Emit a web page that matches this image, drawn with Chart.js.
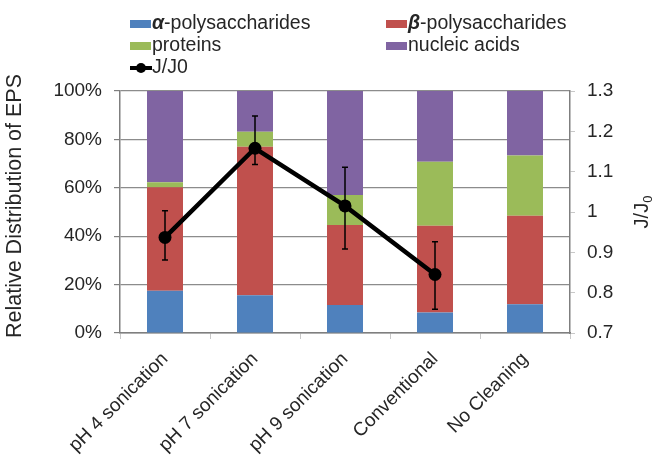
<!DOCTYPE html>
<html>
<head>
<meta charset="utf-8">
<script src="https://cdn.jsdelivr.net/npm/chart.js@4/dist/chart.umd.min.js"></script>
<style>
  html, body { margin: 0; padding: 0; background: #ffffff; }
  #wrap { width: 654px; height: 458px; }
</style>
</head>
<body>
<div id="wrap"><canvas id="c" width="654" height="458"></canvas></div>
<script>
// Cleaning treatments
const categories = ['pH 4 sonication', 'pH 7 sonication', 'pH 9 sonication', 'Conventional', 'No Cleaning'];

// Relative distribution of EPS fractions (%)
const alphaPoly  = [17.5, 15.6, 11.6, 8.5, 11.9];
const betaPoly   = [42.7, 61.4, 33.0, 35.8, 36.6];
const proteins   = [2.1, 6.2, 12.4, 26.5, 24.8];
const nucleic    = [37.7, 16.8, 43.0, 29.2, 26.7];

// Normalised flux recovery and its error range
const fluxRatio  = [0.937, 1.158, 1.015, 0.845, null];
const fluxUpper  = [1.003, 1.238, 1.111, 0.926, null];
const fluxLower  = [0.881, 1.118, 0.908, 0.759, null];

// Axis tick settings
const leftTicks  = { min: 0, max: 100, step: 20 };
const rightTicks = { min: 0.7, max: 1.3, step: 0.1 };

const FONT = "'Liberation Sans', Arial, sans-serif";
const TEXT = '#262626';
const COLORS = { alpha: '#4F81BD', beta: '#C0504D', prot: '#9BBB59', nuc: '#8064A2' };

// Error bars on the J/J0 line
const errorBars = {
  id: 'errorBars',
  afterDatasetsDraw(chart) {
    const meta = chart.getDatasetMeta(4);
    const y1 = chart.scales.y1;
    const ctx = chart.ctx;
    ctx.save();
    ctx.strokeStyle = '#000';
    ctx.lineWidth = 1.5;
    meta.data.forEach((pt, i) => {
      if (fluxUpper[i] == null) return;
      const x = pt.x;
      const yt = y1.getPixelForValue(fluxUpper[i]);
      const yb = y1.getPixelForValue(fluxLower[i]);
      ctx.beginPath();
      ctx.moveTo(x, yt); ctx.lineTo(x, yb);
      ctx.moveTo(x - 3, yt); ctx.lineTo(x + 3, yt);
      ctx.moveTo(x - 3, yb); ctx.lineTo(x + 3, yb);
      ctx.stroke();
    });
    ctx.restore();
  }
};

// Two-column legend and axis titles (with subscript)
const decorations = {
  id: 'decorations',
  afterDraw(chart) {
    const ctx = chart.ctx;
    const ds = chart.data.datasets;
    ctx.save();
    ctx.textBaseline = 'middle';
    ctx.fillStyle = TEXT;

    const items = [
      { ds: 0, x: 130, y: 24, greek: '\u03B1', rest: '-polysaccharides' },
      { ds: 1, x: 386, y: 24, greek: '\u03B2', rest: '-polysaccharides' },
      { ds: 2, x: 130, y: 46, greek: '', rest: 'proteins' },
      { ds: 3, x: 386, y: 46, greek: '', rest: 'nucleic acids' }
    ];
    items.forEach(it => {
      ctx.fillStyle = ds[it.ds].backgroundColor;
      ctx.fillRect(it.x, it.y - 4, 21, 8);
      let tx = it.x + 22;
      ctx.fillStyle = TEXT;
      if (it.greek) {
        ctx.font = 'italic bold 19.5px ' + FONT;
        ctx.fillText(it.greek, tx, it.y);
        tx += ctx.measureText(it.greek).width;
      }
      ctx.font = '19.5px ' + FONT;
      ctx.fillText(it.rest, tx, it.y);
    });
    // line series entry
    ctx.strokeStyle = '#000';
    ctx.lineWidth = 4;
    ctx.beginPath(); ctx.moveTo(130, 68); ctx.lineTo(152, 68); ctx.stroke();
    ctx.fillStyle = '#000';
    ctx.beginPath(); ctx.arc(141, 68, 5, 0, Math.PI * 2); ctx.fill();
    ctx.fillStyle = TEXT;
    ctx.font = '19.5px ' + FONT;
    ctx.fillText(ds[4].label, 152, 68);

    const area = chart.chartArea;
    const cy = (area.top + area.bottom) / 2;
    // left title
    ctx.save();
    ctx.translate(15, cy - 6);
    ctx.rotate(-Math.PI / 2);
    ctx.textAlign = 'center';
    ctx.font = '21.5px ' + FONT;
    ctx.fillText('Relative Distribution of EPS', 0, 0);
    ctx.restore();
    // right title J/J0 with subscript
    ctx.save();
    ctx.translate(642, cy);
    ctx.rotate(-Math.PI / 2);
    ctx.font = '20px ' + FONT;
    const main = 'J/J';
    const wMain = ctx.measureText(main).width;
    ctx.font = '13px ' + FONT;
    const wSub = ctx.measureText('0').width;
    const start = -(wMain + wSub) / 2;
    ctx.textAlign = 'left';
    ctx.font = '20px ' + FONT;
    ctx.fillText(main, start, 0);
    ctx.font = '13px ' + FONT;
    ctx.fillText('0', start + wMain, 6);
    ctx.restore();

    ctx.restore();
  }
};

const barBase = { stack: 'eps', yAxisID: 'y', order: 1, barPercentage: 0.4, categoryPercentage: 1.0, borderWidth: 0 };

new Chart(document.getElementById('c'), {
  data: {
    labels: categories,
    datasets: [
      Object.assign({ type: 'bar', label: 'α-polysaccharides', data: alphaPoly, backgroundColor: COLORS.alpha }, barBase),
      Object.assign({ type: 'bar', label: 'β-polysaccharides', data: betaPoly, backgroundColor: COLORS.beta }, barBase),
      Object.assign({ type: 'bar', label: 'proteins', data: proteins, backgroundColor: COLORS.prot }, barBase),
      Object.assign({ type: 'bar', label: 'nucleic acids', data: nucleic, backgroundColor: COLORS.nuc }, barBase),
      {
        type: 'line', label: 'J/J0', data: fluxRatio, yAxisID: 'y1', order: 0,
        borderColor: '#000', backgroundColor: '#000', borderWidth: 4.5,
        pointRadius: 6.5, pointHoverRadius: 6.5, pointBackgroundColor: '#000', pointBorderWidth: 0,
        tension: 0, spanGaps: false
      }
    ]
  },
  options: {
    responsive: false,
    animation: false,
    layout: { padding: { top: 91, left: 0, right: 0, bottom: 0 } },
    plugins: { legend: { display: false }, tooltip: { enabled: false } },
    scales: {
      x: {
        stacked: true,
        offset: true,
        grid: { display: true, drawOnChartArea: false, drawTicks: true, tickLength: 6, tickColor: '#c8c8c8', offset: true },
        border: { display: true, color: '#7f7f7f', width: 1.5 },
        ticks: { minRotation: 45, maxRotation: 45, padding: 9, color: TEXT, font: { family: FONT, size: 19 } },
        afterFit(s) { s.height = 125; }
      },
      y: {
        stacked: true,
        position: 'left',
        min: leftTicks.min, max: leftTicks.max,
        grid: { color: '#8c8c8c', lineWidth: 1.2, tickColor: '#7f7f7f', tickLength: 6 },
        border: { display: true, color: '#7f7f7f', width: 1.5 },
        ticks: { stepSize: leftTicks.step, padding: 12, color: TEXT, font: { family: FONT, size: 19 }, callback: v => v + '%' },
        afterFit(s) { s.width = 120; }
      },
      y1: {
        position: 'right',
        min: rightTicks.min, max: rightTicks.max,
        grid: { drawOnChartArea: false, tickColor: '#c8c8c8', tickLength: 5 },
        border: { display: true, color: '#7f7f7f', width: 1.5 },
        ticks: { stepSize: rightTicks.step, padding: 12, color: TEXT, font: { family: FONT, size: 19 }, callback: v => String(+v.toFixed(1)) },
        afterFit(s) { s.width = 84; }
      }
    }
  },
  plugins: [errorBars, decorations]
});
</script>
</body>
</html>
